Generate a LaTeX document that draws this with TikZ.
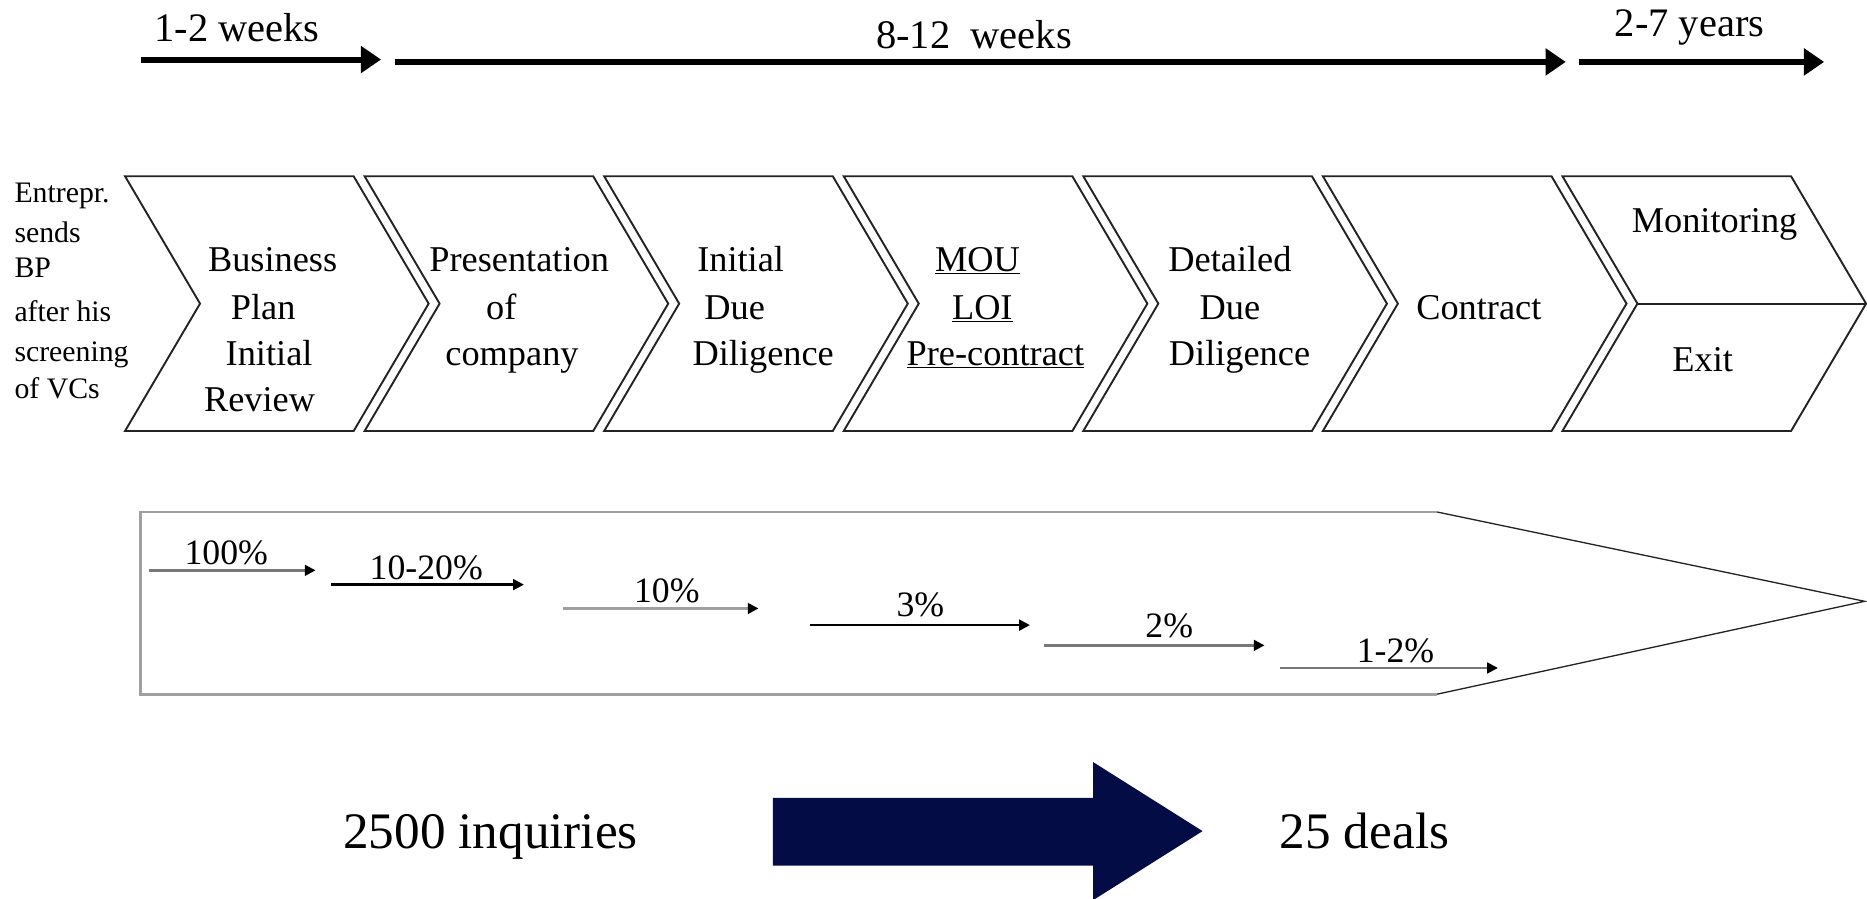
\documentclass[tikz,border=0pt]{standalone}
\usepackage{fontspec}
\setmainfont{Liberation Serif}
\usetikzlibrary{arrows.meta}
\definecolor{navy}{RGB}{3,12,68}
\definecolor{boxgray}{RGB}{160,160,160}
\definecolor{chev}{RGB}{35,35,35}
\definecolor{pgray}{RGB}{120,120,120}
\begin{document}
\begin{tikzpicture}[x=1pt,y=-1pt,
 chevron/.style={draw=chev, line width=1.6pt, line join=miter},
 toparrow/.style={line width=5pt, -{Triangle[length=17pt,width=22pt]}},
 pctarrow/.style={line width=2pt, -{Triangle[length=9pt,width=9pt,color=black]}},
 toplabel/.style={font=\fontsize{34}{40}\selectfont, anchor=base, inner sep=0pt},
 boxtext/.style={font=\fontsize{30.5}{36}\selectfont, anchor=base, inner sep=0pt},
 lefttext/.style={font=\fontsize{25}{30}\selectfont, anchor=base west, inner sep=0pt},
 pcttext/.style={font=\fontsize{30}{36}\selectfont, anchor=base, inner sep=0pt},
 bigtext/.style={font=\fontsize{43}{50}\selectfont, anchor=base, inner sep=0pt},
]
\useasboundingbox (0,0) rectangle (1568,755);
% top time arrows
\coordinate (a1s) at (118,50); \coordinate (a1e) at (320,50);
\coordinate (a2s) at (332,52); \coordinate (a2e) at (1315,52);
\coordinate (a3s) at (1326,52); \coordinate (a3e) at (1532,52);
\draw[toparrow] (a1s) -- (a1e);
\draw[toparrow] (a2s) -- (a2e);
\draw[toparrow] (a3s) -- (a3e);
\node[toplabel] (t1) at (199,35) {1-2 weeks};
\node[toplabel] (t2) at (818,41) {8-12\ \ weeks};
\node[toplabel] (t3) at (1419,31) {2-7 years};
% chevrons
\foreach \i in {0,...,5}{
  \pgfmathsetmacro{\xo}{105+201.2*\i}
  \draw[chevron] (\xo,148) -- (\xo+192,148) -- (\xo+255,255) -- (\xo+192,362) -- (\xo,362) -- (\xo+63,255) -- cycle;
}
\pgfmathsetmacro{\xs}{105+201.2*6}
\draw[chevron] (\xs,148) -- (\xs+192,148) -- (\xs+255,255) -- (\xs+192,362) -- (\xs,362) -- (\xs+63,255) -- cycle;
\coordinate (m1) at (\xs+63,255); \coordinate (m2) at (\xs+255,255);
\draw[chevron] (m1) -- (m2);
% left text
\node[lefttext] (l1) at (12,170) {Entrepr.};
\node[lefttext] (l2) at (12,204) {sends};
\node[lefttext] (l3) at (12,233) {BP};
\node[lefttext] (l4) at (12,270) {after his};
\node[lefttext] (l5) at (12,304) {screening};
\node[lefttext] (l6) at (12,335) {of VCs};
% chevron texts
\node[boxtext] (c1a) at (229,228) {Business};
\node[boxtext] (c1b) at (221,268) {Plan};
\node[boxtext] (c1c) at (226,307) {Initial};
\node[boxtext] (c1d) at (218,346) {Review};
\node[boxtext] (c2a) at (436,228) {Presentation};
\node[boxtext] (c2b) at (421,268) {of};
\node[boxtext] (c2c) at (430,307) {company};
\node[boxtext] (c3a) at (622,228) {Initial};
\node[boxtext] (c3b) at (617,268) {Due};
\node[boxtext] (c3c) at (641,307) {Diligence};
\node[boxtext] (c4a) at (821,228) {\underline{MOU}};
\node[boxtext] (c4b) at (825,268) {\underline{LOI}};
\node[boxtext] (c4c) at (836,307) {\underline{Pre-contract}};
\node[boxtext] (c5a) at (1033,228) {Detailed};
\node[boxtext] (c5b) at (1033,268) {Due};
\node[boxtext] (c5c) at (1041,307) {Diligence};
\node[boxtext] (c6a) at (1242,268) {Contract};
\node[boxtext] (c7a) at (1440,195) {Monitoring};
\node[boxtext] (c7b) at (1430,312) {Exit};
% funnel box
\coordinate (f1) at (1207,430); \coordinate (f2) at (118,430);
\coordinate (f3) at (118,583); \coordinate (f4) at (1207,583);
\coordinate (ft) at (1566,505);
\draw[boxgray, line width=2.5pt] (f1) -- (f2) -- (f3) -- (f4);
\draw[chev, line width=1.1pt] (f1) -- (ft) -- (f4);
% percent arrows
\coordinate (p1s) at (125,479); \coordinate (p1e) at (265,479);
\coordinate (p2s) at (278,491); \coordinate (p2e) at (440,491);
\coordinate (p3s) at (473,511); \coordinate (p3e) at (637,511);
\coordinate (p4s) at (680,525); \coordinate (p4e) at (865,525);
\coordinate (p5s) at (877,542); \coordinate (p5e) at (1062,542);
\coordinate (p6s) at (1075,561); \coordinate (p6e) at (1258,561);
\draw[pctarrow, draw=pgray] (p1s) -- (p1e);
\draw[pctarrow, draw=black] (p2s) -- (p2e);
\draw[pctarrow, draw=boxgray] (p3s) -- (p3e);
\draw[pctarrow, draw=black] (p4s) -- (p4e);
\draw[pctarrow, draw=pgray] (p5s) -- (p5e);
\draw[pctarrow, draw=pgray] (p6s) -- (p6e);
\node[pcttext] (q1) at (190,474) {100\%};
\node[pcttext] (q2) at (358,487) {10-20\%};
\node[pcttext] (q3) at (560,506) {10\%};
\node[pcttext] (q4) at (773,518) {3\%};
\node[pcttext] (q5) at (982,535) {2\%};
\node[pcttext] (q6) at (1172,556) {1-2\%};
% bottom
\node[bigtext] (b1) at (412,713) {2500 inquiries};
\node[bigtext] (b2) at (1146,713) {25 deals};
\fill[navy] (649,670) -- (918,670) -- (918,640) -- (1010,698) -- (918,756) -- (918,727) -- (649,727) -- cycle;
\end{tikzpicture}
\end{document}
